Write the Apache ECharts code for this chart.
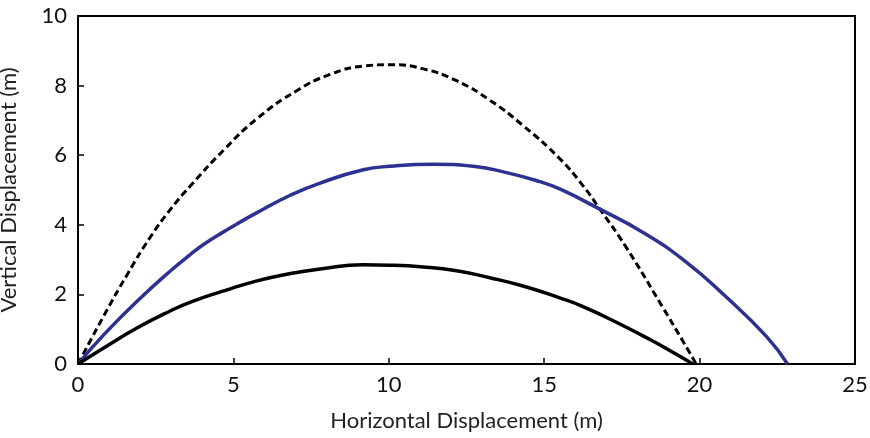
<!DOCTYPE html>
<html>
<head>
<meta charset="utf-8">
<script src="https://cdn.jsdelivr.net/npm/echarts@6/dist/echarts.min.js"></script>
<style>html,body{margin:0;padding:0;background:#fff}#c{width:870px;height:438px}</style>
</head>
<body>
<div id="c"></div>
<script>
var xTitle = 'Horizontal Displacement (m)';
var yTitle = 'Vertical Displacement (m)';

var dashedX = [0, 0.84, 1.59, 2.33, 2.98, 3.62, 4.69, 5.76, 7.05, 8.11, 9.18, 10.04, 11.11, 12.18, 13.25, 14.32, 15.5, 16.25, 16.79, 17.64, 18.82, 19.46, 19.89];
var dashedY = [0, 1.4, 2.58, 3.65, 4.45, 5.12, 6.15, 7.05, 7.86, 8.32, 8.56, 8.6, 8.48, 8.14, 7.58, 6.85, 5.9, 5.12, 4.45, 3.35, 1.62, 0.66, 0];

var blueX = [0, 0.84, 1.91, 2.98, 3.62, 4.05, 4.69, 5.22, 5.76, 6.83, 7.79, 9.18, 10.04, 11.43, 12.72, 13.79, 14.86, 15.5, 16.79, 18.18, 19.57, 20.85, 22.14, 22.83];
var blueY = [0, 0.85, 1.81, 2.68, 3.15, 3.44, 3.8, 4.08, 4.35, 4.85, 5.2, 5.58, 5.68, 5.74, 5.68, 5.5, 5.24, 5.03, 4.45, 3.78, 2.93, 1.93, 0.8, 0];

var solidX = [0, 0.84, 1.91, 2.98, 3.62, 4.69, 5.76, 6.83, 7.79, 9.18, 10.04, 11.11, 12.18, 13.25, 14.32, 15.5, 16.25, 17.32, 18.39, 19.25, 19.78];
var solidY = [0, 0.47, 1.04, 1.53, 1.78, 2.1, 2.39, 2.6, 2.73, 2.85, 2.84, 2.79, 2.68, 2.48, 2.24, 1.9, 1.65, 1.2, 0.71, 0.28, 0];

function pairs(xs, ys){ return xs.map(function(x,i){ return [x, ys[i]]; }); }

var font = 'Lato';
var chart = echarts.init(document.getElementById('c'));
chart.setOption({
  animation: false,
  grid: {left: 78, right: 15, top: 16, bottom: 74, containLabel: false, outerBoundsMode: 'none',
         show: true, borderColor: '#000', borderWidth: 2},
  xAxis: {
    type: 'value', min: 0, max: 25, interval: 5,
    name: xTitle, nameLocation: 'middle', nameGap: 46,
    nameTextStyle: {fontFamily: font, fontSize: 22, color: '#222'},
    axisLine: {show: true, lineStyle: {color: '#000', width: 2}},
    axisTick: {show: true, inside: true, length: 6, lineStyle: {color: '#000', width: 1.5}},
    axisLabel: {fontFamily: font, fontSize: 22, color: '#111', margin: 10},
    splitLine: {show: false}
  },
  yAxis: {
    type: 'value', min: 0, max: 10, interval: 2,
    name: yTitle, nameLocation: 'middle', nameGap: 58,
    nameTextStyle: {fontFamily: font, fontSize: 22, color: '#222'},
    axisLine: {show: true, lineStyle: {color: '#000', width: 2}},
    axisTick: {show: true, inside: true, length: 6, lineStyle: {color: '#000', width: 1.5}},
    axisLabel: {fontFamily: font, fontSize: 22, color: '#111', margin: 11},
    splitLine: {show: false}
  },
  series: [
    {type: 'line', data: pairs(dashedX, dashedY), smooth: 0.5, symbol: 'none',
     lineStyle: {color: '#000', width: 3, type: [7, 4]}},
    {type: 'line', data: pairs(blueX, blueY), smooth: 0.5, symbol: 'none',
     lineStyle: {color: '#2e3192', width: 3.5}},
    {type: 'line', data: pairs(solidX, solidY), smooth: 0.5, symbol: 'none',
     lineStyle: {color: '#000', width: 3.5}}
  ]
});
</script>
</body>
</html>
